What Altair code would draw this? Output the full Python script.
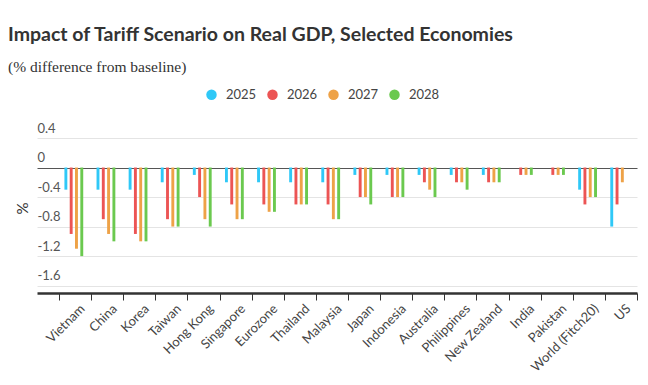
import altair as alt
import pandas as pd

economies = ["Vietnam", "China", "Korea", "Taiwan", "Hong Kong", "Singapore", "Eurozone",
             "Thailand", "Malaysia", "Japan", "Indonesia", "Australia", "Philippines",
             "New Zealand", "India", "Pakistan", "World (Fitch20)", "US"]
years = ["2025", "2026", "2027", "2028"]
v2025 = [-0.3, -0.3, -0.3, -0.2, -0.1, -0.2, -0.2, -0.2, -0.2, -0.1, -0.1, -0.1, -0.1, -0.1, None, None, -0.3, -0.8]
v2026 = [-0.9, -0.7, -0.9, -0.7, -0.4, -0.5, -0.5, -0.5, -0.5, -0.4, -0.4, -0.2, -0.2, -0.2, -0.1, -0.1, -0.5, -0.5]
v2027 = [-1.1, -0.9, -1.0, -0.8, -0.7, -0.7, -0.6, -0.5, -0.7, -0.4, -0.4, -0.3, -0.2, -0.2, -0.1, -0.1, -0.4, -0.2]
v2028 = [-1.2, -1.0, -1.0, -0.8, -0.8, -0.7, -0.6, -0.5, -0.7, -0.5, -0.4, -0.4, -0.3, -0.2, -0.1, -0.1, -0.4, None]
colors = ["#2fc8f7", "#ec5454", "#eea247", "#6bc94f"]
y_ticks = [0.4, 0, -0.4, -0.8, -1.2, -1.6]

rows = []
for yr, vals in zip(years, [v2025, v2026, v2027, v2028]):
    for e, v in zip(economies, vals):
        rows.append({"economy": e, "year": yr, "value": v})
df = pd.DataFrame(rows)

chart = alt.Chart(df).mark_bar(width=2.9).encode(
    x=alt.X("economy:N", sort=economies, title=None,
            scale=alt.Scale(paddingInner=0, paddingOuter=0.343, align=1),
            axis=alt.Axis(labelAngle=-45, labelFont="Lato", labelFontSize=13, labelColor="#444",
                          tickBand="extent", tickSize=7, tickColor="#333", tickWidth=1,
                          domainColor="#333", domainWidth=2.5, labelPadding=2, labelOffset=3,
                          grid=False)),
    xOffset=alt.XOffset("year:N", sort=years,
                        scale=alt.Scale(range=[4.2, 25.4], paddingInner=0.45, paddingOuter=0.225)),
    y=alt.Y("value:Q", title="%",
            scale=alt.Scale(domain=[-1.7, 0.4], nice=False, zero=False),
            axis=alt.Axis(values=y_ticks, domain=False, ticks=False, tickSize=0,
                          labelExpr="datum.value == 0 ? '0' : (datum.value < 0 ? '-' : '') + format(abs(datum.value), '.1f')",
                          labelAlign="left", labelPadding=0, labelBaseline="alphabetic",
                          labelOffset=-6, labelFont="Lato", labelFontSize=13, labelColor="#555",
                          gridColor={"condition": {"test": "datum.value === 0", "value": "#555"}, "value": "#e4e4e4"},
                          gridWidth=1,
                          titleX=-15, titleY=70, titleAngle=-90, titleAlign="center",
                          titleBaseline="middle", titleFont="Lato", titleFontSize=15,
                          titleFontWeight="normal", titleColor="#333")),
    color=alt.Color("year:N", sort=years, title=None,
                    scale=alt.Scale(domain=years, range=colors),
                    legend=alt.Legend(orient="none", direction="horizontal", legendX=168, legendY=-50,
                                      symbolType="circle", symbolSize=110, symbolStrokeWidth=0,
                                      labelFont="Lato", labelFontSize=13, labelColor="#444",
                                      labelOffset=8, columnPadding=9)),
).properties(
    width=600, height=155,
    title=alt.TitleParams(
        "Impact of Tariff Scenario on Real GDP, Selected Economies",
        subtitle="(% difference from baseline)",
        anchor="start", frame="group", dx=-29, font="Lato", fontSize=19.5, fontWeight="bold",
        color="#333",
        subtitleFont="Liberation Serif", subtitleFontSize=15.5, subtitleColor="#333",
        subtitlePadding=14, offset=12),
    autosize=alt.AutoSizeParams(type="none"),
    padding={"left": 29, "top": 130, "right": 3, "bottom": 84},
).configure(font="Lato").configure_view(stroke=None)

chart.save("out.html", embed_options={"renderer": "svg", "actions": False})
